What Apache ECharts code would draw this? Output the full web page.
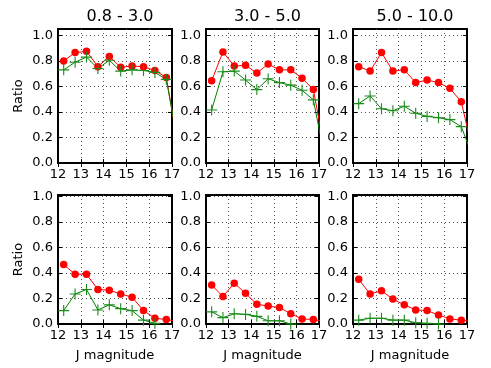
<!DOCTYPE html>
<html>
<head>
<meta charset="utf-8">
<script src="https://cdn.jsdelivr.net/npm/echarts@6/dist/echarts.min.js"></script>
<style>
html, body { margin: 0; padding: 0; background: #fff; }
#main { width: 491px; height: 368px; }
</style>
</head>
<body>
<div id="main"></div>
<script>
// J magnitude bin centres (last one lies past the axis and is clipped)
var jMag = [12.25, 12.75, 13.25, 13.75, 14.25, 14.75, 15.25, 15.75, 16.25, 16.75, 17.25];
var panelTitles = ['0.8 - 3.0', '3.0 - 5.0', '5.0 - 10.0'];

// top row
var redTop1 = [0.80, 0.865, 0.875, 0.755, 0.835, 0.75, 0.76, 0.755, 0.725, 0.67, 0.15];
var greenTop1 = [0.73, 0.79, 0.83, 0.74, 0.805, 0.72, 0.73, 0.725, 0.71, 0.655, 0.17];
var redTop2 = [0.645, 0.87, 0.76, 0.765, 0.705, 0.775, 0.73, 0.73, 0.665, 0.575, 0.10];
var greenTop2 = [0.415, 0.715, 0.72, 0.65, 0.575, 0.66, 0.63, 0.61, 0.57, 0.495, 0.05];
var redTop3 = [0.755, 0.72, 0.865, 0.72, 0.73, 0.63, 0.65, 0.63, 0.585, 0.48, 0.09];
var greenTop3 = [0.465, 0.525, 0.425, 0.41, 0.445, 0.39, 0.365, 0.355, 0.34, 0.285, 0.05];

// bottom row
var redBot1 = [0.465, 0.39, 0.39, 0.27, 0.265, 0.235, 0.21, 0.105, 0.045, 0.035, 0.02];
var greenBot1 = [0.105, 0.235, 0.27, 0.11, 0.15, 0.12, 0.105, 0.03, 0.005, -0.03, -0.03];
var redBot2 = [0.305, 0.215, 0.32, 0.24, 0.155, 0.14, 0.13, 0.08, 0.04, 0.035, 0.02];
var greenBot2 = [0.095, 0.05, 0.08, 0.075, 0.06, 0.025, 0.025, 0.0, -0.01, -0.02, -0.03];
var redBot3 = [0.35, 0.235, 0.26, 0.195, 0.15, 0.11, 0.105, 0.07, 0.04, 0.03, 0.02];
var greenBot3 = [0.03, 0.045, 0.045, 0.03, 0.03, 0.01, 0.005, 0.0, -0.01, -0.02, -0.03];

var redSets = [redTop1, redTop2, redTop3, redBot1, redBot2, redBot3];
var greenSets = [greenTop1, greenTop2, greenTop3, greenBot1, greenBot2, greenBot3];

var FONT = 'DejaVu Sans';
var colLeft = [58, 206, 353];
var colWidth = [114, 113, 114];
var rowTop = [29, 195];
var rowHeight = [134, 129];
var rowMax = [1.05, 1.01];

// thin plus sign as a filled outline
var plusPath = 'path://M-0.1,-1L0.1,-1L0.1,-0.1L1,-0.1L1,0.1L0.1,0.1L0.1,1L-0.1,1L-0.1,0.1L-1,0.1L-1,-0.1L-0.1,-0.1Z';

function pairs(vals) {
	return jMag.map(function(x, k) { return [x, vals[k]]; });
}

var grid = [], xAxis = [], yAxis = [], series = [], title = [];
var tick = { inside: true, length: 4, lineStyle: { color: '#000', width: 1 } };
var dotted = { show: true, showMinLine: false, showMaxLine: false, lineStyle: { color: '#555', width: 1, type: [1, 3] } };

for (var i = 0; i < 6; i++) {
	var col = i % 3, row = Math.floor(i / 3);
	grid.push({
		left: colLeft[col], top: rowTop[row], width: colWidth[col], height: rowHeight[row],
		show: true, borderColor: '#000', borderWidth: 2, backgroundColor: 'transparent'
	});
	if (row === 0) {
		title.push({
			text: panelTitles[col], left: colLeft[col] + colWidth[col] / 2, top: 4, textAlign: 'center',
			textStyle: { fontFamily: FONT, fontSize: 16, fontWeight: 'normal', color: '#000' }
		});
	}
	xAxis.push({
		type: 'value', gridIndex: i, min: 12, max: 17, interval: 1, position: 'bottom',
		name: row === 1 ? 'J magnitude' : '', nameLocation: 'middle', nameGap: 25,
		nameTextStyle: { fontFamily: FONT, fontSize: 13, color: '#000' },
		axisLine: { show: false }, axisTick: tick, splitLine: dotted,
		axisLabel: { fontFamily: FONT, fontSize: 13, color: '#000', margin: 5 }
	});
	xAxis.push({
		type: 'value', gridIndex: i, min: 12, max: 17, interval: 1, position: 'top',
		axisLine: { show: false }, axisTick: tick, splitLine: { show: false }, axisLabel: { show: false }
	});
	yAxis.push({
		type: 'value', gridIndex: i, min: 0, max: rowMax[row], interval: 0.2, position: 'left',
		name: col === 0 ? 'Ratio' : '', nameLocation: 'middle', nameGap: 33,
		nameTextStyle: { fontFamily: FONT, fontSize: 13, color: '#000' },
		axisLine: { show: false }, axisTick: tick, splitLine: dotted,
		axisLabel: {
			fontFamily: FONT, fontSize: 13, color: '#000', margin: 5, showMaxLabel: false,
			formatter: function(v) { return v.toFixed(1); }
		}
	});
	yAxis.push({
		type: 'value', gridIndex: i, min: 0, max: rowMax[row], interval: 0.2, position: 'right',
		axisLine: { show: false }, axisTick: tick, splitLine: { show: false }, axisLabel: { show: false }
	});
	series.push({
		type: 'line', xAxisIndex: 2 * i, yAxisIndex: 2 * i, data: pairs(redSets[i]),
		symbol: 'circle', symbolSize: 7.5, clip: true,
		itemStyle: { color: '#ff0000' }, lineStyle: { color: '#ff0000', width: 1 }
	});
	series.push({
		type: 'line', xAxisIndex: 2 * i, yAxisIndex: 2 * i, data: pairs(greenSets[i]),
		symbol: plusPath, symbolSize: 11, clip: true,
		itemStyle: { color: '#1a8c1a' }, lineStyle: { color: '#008000', width: 1 }
	});
}

var myChart = echarts.init(document.getElementById('main'));
myChart.setOption({
	animation: false,
	title: title,
	grid: grid,
	xAxis: xAxis,
	yAxis: yAxis,
	series: series
});
</script>
</body>
</html>
